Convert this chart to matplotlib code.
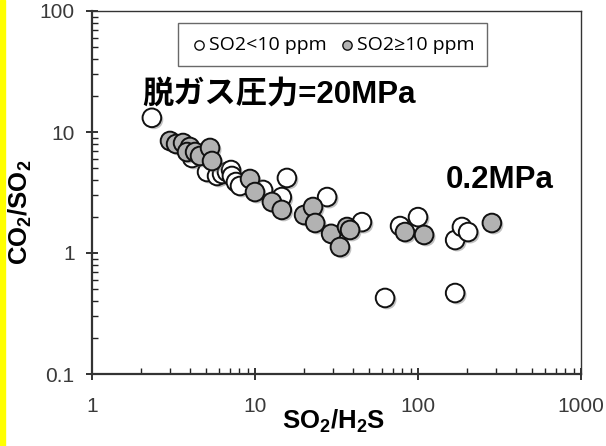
import matplotlib
matplotlib.use('Agg')
import matplotlib.pyplot as plt
import matplotlib.patheffects as pe
from matplotlib.patches import Rectangle

plt.rcParams['font.family'] = ['Liberation Sans', 'Noto Sans CJK JP', 'DejaVu Sans']
plt.rcParams['mathtext.fontset'] = 'custom'
plt.rcParams['mathtext.rm'] = 'Liberation Sans'
plt.rcParams['mathtext.bf'] = 'Liberation Sans:bold'

# SO2 < 10 ppm (open circles)
low_x = [2.33, 4.11, 5.08, 5.85, 6.28, 6.73, 7.13, 7.22, 7.64, 8.09, 11.2,
         15.7, 14.6, 27.7, 45.3, 62.8, 77.6, 100, 169, 186, 203, 169]
low_y = [13.1, 6.10, 4.67, 4.33, 4.50, 4.67, 4.85, 4.33, 3.86, 3.58, 3.32,
         4.17, 2.90, 2.90, 1.80, 0.425, 1.67, 1.98, 1.28, 1.64, 1.49, 0.467]

# SO2 >= 10 ppm (grey circles)
high_x = [3.01, 3.28, 3.62, 3.99, 3.83, 4.29, 4.60, 5.30, 5.45, 9.32, 10.0,
          12.7, 14.6, 20.0, 22.7, 23.4, 29.3, 33.2, 36.7, 38.3, 83.2, 109, 284]
high_y = [8.43, 7.96, 8.11, 7.52, 6.83, 6.83, 6.34, 7.38, 5.76, 4.09, 3.19,
          2.64, 2.27, 2.06, 2.40, 1.77, 1.44, 1.12, 1.64, 1.55, 1.49, 1.41, 1.77]

fig = plt.figure(figsize=(6.06, 4.46), dpi=100)
ax = fig.add_axes([92/606, 1-374/446, 489/606, 363/446])

fig.patches.append(Rectangle((0, 0), 5/606, 1, transform=fig.transFigure,
                             color='#ffff00', zorder=0))

shadow = [pe.SimplePatchShadow(offset=(1.5, -1.5), shadow_rgbFace='#777777', alpha=0.45),
          pe.Normal()]
ax.scatter(low_x, low_y, s=180, facecolor='white', edgecolor='#111111',
           linewidth=1.4, label='SO2<10 ppm', path_effects=shadow, zorder=3)
ax.scatter(high_x, high_y, s=180, facecolor='#b2b2b2', edgecolor='#111111',
           linewidth=1.4, label='SO2≥10 ppm', path_effects=shadow, zorder=4)

ax.set_xscale('log')
ax.set_yscale('log')
ax.set_xlim(1, 1000)
ax.set_ylim(0.1, 100)
ax.set_xticks([1, 10, 100, 1000])
ax.set_xticklabels(['1', '10', '100', '1000'])
ax.set_yticks([0.1, 1, 10, 100])
ax.set_yticklabels(['0.1', '1', '10', '100'])

for s in ax.spines.values():
    s.set_color('#333333')
    s.set_linewidth(1.0)
ax.spines['left'].set_linewidth(1.6)
ax.spines['bottom'].set_linewidth(1.6)

ax.tick_params(which='major', direction='inout', length=9, width=1.3,
               color='#222222', labelsize=15, labelcolor='#3a3a3a')
ax.tick_params(axis='x', which='major', pad=12)
ax.tick_params(axis='y', which='major', pad=8)
ax.tick_params(which='minor', direction='in', length=4, width=1.0, color='#222222')

ax.set_xlabel(r'$\mathbf{SO_2/H_2S}$', fontsize=18.5)
ax.set_ylabel(r'$\mathbf{CO_2/SO_2}$', fontsize=18.5)
ax.xaxis.set_label_coords(0.495, -0.093)
ax.yaxis.set_label_coords(-0.118, 0.446)

ax.text((142-92)/489, (374-103)/363, '脱ガス圧力=20MPa', transform=ax.transAxes,
        fontsize=22.5, fontweight='bold', ha='left', va='baseline')
ax.text((446-92)/489, (374-188)/363, '0.2MPa', transform=ax.transAxes,
        fontsize=22.5, fontweight='bold', ha='left', va='baseline')

leg = ax.legend(loc='upper left', bbox_to_anchor=(178/606, 1-23/446),
                bbox_transform=fig.transFigure, ncol=2, frameon=True,
                fancybox=False, markerscale=0.5, handletextpad=0.05,
                columnspacing=0.6, borderpad=0.65, handlelength=0.9,
                borderaxespad=0, prop={'family': 'Open Sans', 'size': 14})
leg.get_frame().set_edgecolor('#444444')
leg.get_frame().set_linewidth(1.0)
for h in leg.legend_handles:
    h.set_path_effects([])
    h.set_linewidth(1.0)

fig.savefig('out.png', dpi=100)
